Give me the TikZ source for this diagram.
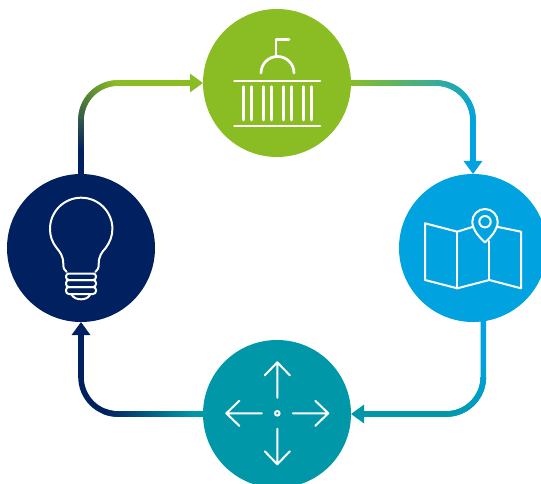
\documentclass[tikz,border=0pt]{standalone}
\usepackage{xcolor}
\usetikzlibrary{arrows.meta,calc,decorations.markings}
\definecolor{navyblue}{HTML}{002060}
\definecolor{leafgreen}{HTML}{8ABD24}
\definecolor{skyblue}{HTML}{00A3E0}
\definecolor{seateal}{HTML}{0098A9}
\tikzset{
  stage/.style={circle, fill=#1, minimum size=148pt, inner sep=0pt, outer sep=0pt},
  conn/.style={line width=5.6pt, rounded corners=37pt, color=#1, -{Triangle[length=13pt,width=18pt]}},
  fade/.style n args={4}{postaction={decorate, decoration={markings,
    mark=between positions 0 and #4 step 1pt with {
      \pgfmathsetmacro\mixval{100*max(0,min(1,(\pgfkeysvalueof{/pgf/decoration/mark info/distance from start}/\pgfdecoratedpathlength-#3)/(#4-#3)))}
      \fill[sharp corners, color=#2!\mixval!#1] (-.7pt,-2.8pt) rectangle (.7pt,2.8pt);
    }}}},
  icon/.style={draw=white, line width=2pt, line cap=round, line join=round},
}
\begin{document}
\begin{tikzpicture}[x=1pt,y=-1pt]
\clip (0,0) rectangle (541,484);
\node[stage=leafgreen] (capitol) at (277,83) {};
\node[stage=skyblue] (map) at (473,248) {};
\node[stage=seateal] (hub) at (277,414) {};
\node[stage=navyblue] (bulb) at (81,248) {};
\coordinate (mapout) at (483.3,319);

\draw[conn=leafgreen, fade={navyblue}{leafgreen}{0.12}{0.56}] (bulb.north) |- (capitol.west);
\draw[conn=skyblue, fade={leafgreen}{skyblue}{0}{0.72}] (capitol.east) -| (map.north);
\draw[conn=seateal, fade={skyblue}{seateal}{0.2}{0.55}] (mapout) |- (hub.east);
\draw[conn=navyblue, fade={seateal}{navyblue}{0.05}{0.5}] (hub.west) -| (bulb.south);

% capitol
\draw[icon, line width=2.7pt] (261,73) arc[start angle=180, end angle=360, radius=16.5];
\draw[icon, line width=2.7pt] (276,56.7) -- (276,39.3) -- (289,39.3);
\draw[icon, line width=2.7pt] (234.5,81) -- (320,81);
\draw[icon, line width=2.7pt] (234.5,126) -- (320,126);
\foreach \xcol in {243.3,251.7,263.3,271.7,283.3,291.7,303.3,311.7}
  \draw[icon, line width=2.7pt] (\xcol,86.7) -- (\xcol,120);

% map
\draw[icon] (473.3,226.7) -- (457.3,231.7) -- (425,223.3) -- (425,280) -- (457.3,288.3) -- (489.3,280) -- (521,288.3) -- (521,231.7) -- (496.7,226.7);
\draw[icon] (457.3,231.7) -- (457.3,288.3);
\draw[icon] (489.3,241) -- (489.3,280);
\draw[icon] (485,242.3) .. controls (480,238) and (472.3,230) .. (472.3,221.7) arc[start angle=180, end angle=360, radius=12.7] .. controls (497.7,230) and (490,238) .. (485,242.3) -- cycle;
\draw[icon] (485,221.7) circle[radius=5.7];

% arrows
\foreach \ang in {0,90,180,270}
  \draw[icon, shift={(277.3,413.3)}, rotate=\ang] (15.5,0) -- (51,0) (38,-12.5) -- (51,0) -- (38,12.5);
\draw[icon] (277.3,413.3) circle[radius=2.3];

% bulb
\draw[icon] (66.7,272) .. controls (64,270) and (63.3,268) .. (63.3,264) .. controls (63.3,256) and (60,252) .. (56.7,248) .. controls (52,242) and (50,236) .. (50,228.9) arc[start angle=180, end angle=360, radius=31.2] .. controls (112.4,236) and (110,242) .. (105.7,248) .. controls (102,252) and (98.7,256) .. (98.7,264) .. controls (98.7,268) and (98,270) .. (95.3,272);
\draw[icon, rounded corners=3pt] (66,273.5) rectangle (96,280);
\draw[icon, rounded corners=3pt] (66,280) rectangle (96,287);
\draw[icon, rounded corners=3pt] (66,287) rectangle (96,294);
\draw[icon] (71.7,295) .. controls (74,298) and (77,299.3) .. (81,299.3) .. controls (85,299.3) and (88,298) .. (90,295);
\end{tikzpicture}
\end{document}
